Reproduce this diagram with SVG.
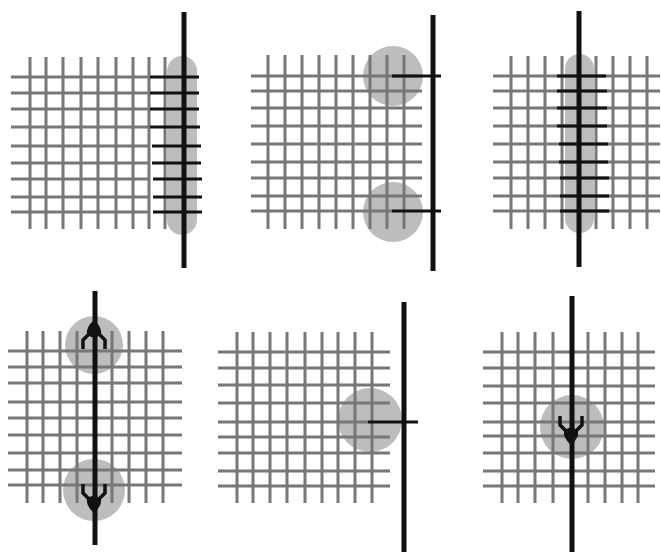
<svg xmlns="http://www.w3.org/2000/svg" width="661" height="553" viewBox="0 0 661 553">
<style>
.g{stroke:#777;stroke-width:3;fill:none}
.b{stroke:#111;stroke-width:3;fill:none}
.bar{stroke:#111;stroke-width:5;fill:none}
.s{fill:#bdbdbd}
</style>
<defs>
<g id="arrow">
<path d="M-11,-18 V-9 L-5,-3 M11,-18 V-9 L5,-3" fill="none" stroke="#111" stroke-width="3.5"/>
<path d="M-7,-3 Q-8,4 0,11 Q8,4 7,-3 Q0,-10 -7,-3 Z" fill="#111"/>
</g>
</defs>
<rect width="661" height="553" fill="#fff"/>

<g id="panel1">
<rect class="s" x="167" y="56" width="30" height="179" rx="15"/>
<path class="g" d="M11,77H150M11,93H150M11,109H150M11,127H150M11,146H150M11,163H150M11,179H150M11,197H150M11,212H150"/>
<path class="g" d="M30,57V229M46,57V229M63,57V229M81,57V229M98,57V229M116,57V229M133,57V229M149,57V229M165,57V229"/>
<path class="b" d="M150,77H199M150,93H199M150,109H199M150,127H200M152,146H201M152,163H201M153,179H202M153,197H202M153,212H202"/>
<path class="bar" d="M184,12V268"/>
</g>

<g id="panel2">
<circle class="s" cx="393" cy="76" r="30"/>
<circle class="s" cx="393" cy="212" r="30"/>
<path class="g" d="M251,76H422M251,91H422M251,108H422M251,126H422M251,144H422M251,162H422M251,178H422M251,196H422M251,211H392"/>
<path class="g" d="M268,55V229M285,55V229M302,55V229M319,55V229M336,55V229M353,55V229M370,55V229M387,55V229M404,55V229"/>
<path class="b" d="M392,76H441M392,211H441"/>
<path class="bar" d="M433,15V271"/>
</g>

<g id="panel3">
<rect class="s" x="565" y="54" width="29" height="179" rx="14.5"/>
<path class="g" d="M493,76H660M493,91H660M493,108H660M493,126H660M493,144H660M493,162H660M493,178H660M493,196H660M493,211H660"/>
<path class="g" d="M511,56V229M528,56V229M545,56V229M562,56V229M596,56V229M613,56V229M630,56V229M647,56V229"/>
<path class="b" d="M557,76H606M557,91H607M557,108H607M557,126H607M559,144H608M559,162H608M560,178H609M560,196H609M560,211H609"/>
<path class="bar" d="M579,11V267"/>
</g>

<g id="panel4">
<circle class="s" cx="94" cy="345" r="29"/>
<circle class="s" cx="94" cy="490" r="31"/>
<path class="g" d="M8,351H182M8,367H182M8,383H182M8,402H182M8,418H182M8,435H182M8,453H182M8,470H182M8,485H182"/>
<path class="g" d="M27,331V503M43,331V503M60,331V503M77,331V503M112,331V503M129,331V503M146,331V503M163,331V503"/>
<path class="bar" d="M95,291V545"/>
<use href="#arrow" transform="translate(94,331) rotate(180)"/>
<use href="#arrow" transform="translate(94,502)"/>
</g>

<g id="panel5">
<circle class="s" cx="370" cy="420" r="32"/>
<path class="g" d="M218,352H390M218,368H390M218,385H390M218,403H390M218,422H368M218,437H390M218,453H390M218,471H390M218,486H390"/>
<path class="g" d="M237,332V503M253,332V503M270,332V503M287,332V503M305,332V503M322,332V503M338,332V503M355,332V503M372,332V503"/>
<path class="b" d="M368,422H418"/>
<path class="bar" d="M404,302V552"/>
</g>

<g id="panel6">
<circle class="s" cx="572" cy="427" r="32"/>
<path class="g" d="M483,352H655M483,368H655M483,386H655M483,403H655M483,422H655M483,436H655M483,453H655M483,471H655M483,486H655"/>
<path class="g" d="M502,332V503M518,332V503M535,332V503M553,332V503M588,332V503M605,332V503M622,332V503M638,332V503"/>
<path class="bar" d="M572,296V552"/>
<use href="#arrow" transform="translate(571,434)"/>
</g>
</svg>
